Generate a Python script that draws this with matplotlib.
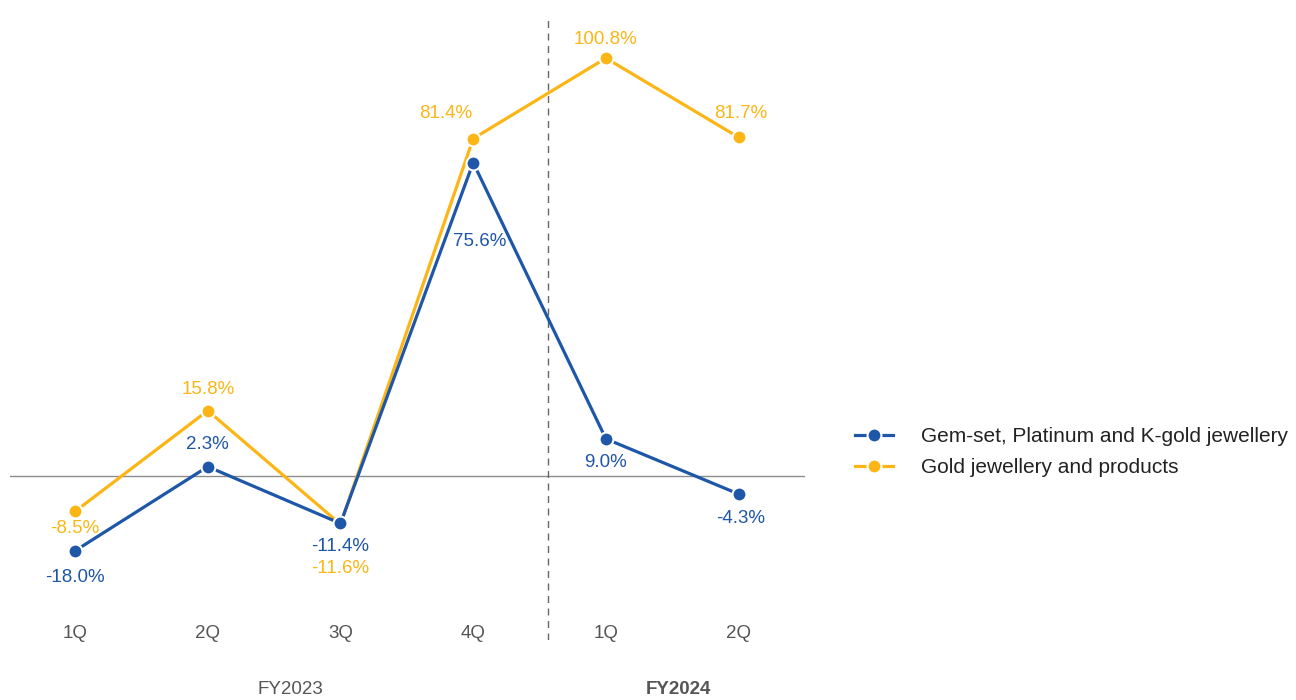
import matplotlib.pyplot as plt
from matplotlib.transforms import blended_transform_factory

# Data
quarters = ["1Q", "2Q", "3Q", "4Q", "1Q", "2Q"]
gem_set = [-18.0, 2.3, -11.4, 75.6, 9.0, -4.3]
gold = [-8.5, 15.8, -11.6, 81.4, 100.8, 81.7]
series_names = ["Gem-set, Platinum and K-gold jewellery", "Gold jewellery and products"]

BLUE = "#1e56a8"
YELLOW = "#fbb616"
GRAY = "#555555"

plt.rcParams["font.family"] = ["Liberation Sans", "DejaVu Sans"]

fig = plt.figure(figsize=(12.96, 7.0), dpi=100)
ax = fig.add_axes([10 / 1296, 1 - 640 / 700, 795 / 1296, 625 / 700])
x = list(range(len(quarters)))

ax.axhline(0, color="#8c8c8c", lw=1, zorder=1)
ax.axvline(3.56, color="#666666", lw=1, ls=(0, (5, 4)), zorder=1)

line_kw = dict(lw=2.3, marker="o", markersize=10, markeredgecolor="white", markeredgewidth=1.5)
l_gem, = ax.plot(x, gem_set, color=BLUE, zorder=3, **line_kw)
l_gold, = ax.plot(x, gold, color=YELLOW, zorder=2, **line_kw)

# label offsets in pixels
gem_off = [(0, -27), (0, 22), (0, -23), (6, -79), (0, -24), (2, -24)]
gold_off = [(0, -17), (0, 21), (0, -44), (-28, 25), (0, 19), (2, 24)]
for xi, v, off in zip(x, gem_set, gem_off):
    ax.annotate(f"{v:.1f}%", (xi, v), xytext=off, textcoords="offset pixels",
                ha="center", va="center", color=BLUE, fontsize=13.5, zorder=5)
for xi, v, off in zip(x, gold, gold_off):
    ax.annotate(f"{v:.1f}%", (xi, v), xytext=off, textcoords="offset pixels",
                ha="center", va="center", color=YELLOW, fontsize=13.5, zorder=5)

ax.set_xlim(-0.49, 5.5)
ax.set_ylim(-39.5, 111.2)
ax.axis("off")

# x tick labels and year groups
tr = blended_transform_factory(ax.transData, fig.transFigure)
for xi, q in zip(x, quarters):
    ax.text(xi, 1 - 634 / 700, q, transform=tr, ha="center", va="center", color=GRAY, fontsize=13.5)
ax.text(1.62, 1 - 690 / 700, "FY2023", transform=tr, ha="center", va="center", color=GRAY, fontsize=13.5)
ax.text(4.55, 1 - 690 / 700, "FY2024", transform=tr, ha="center", va="center", color=GRAY,
        fontsize=13.5, fontweight="bold")

fig.legend([l_gem, l_gold], series_names, loc="center left",
           bbox_to_anchor=(836 / 1296, 1 - 452 / 700), frameon=False, fontsize=15,
           handlelength=1.85, handletextpad=1.35, labelspacing=0.58, labelcolor="#222222")

fig.savefig("out.png", dpi=100)
